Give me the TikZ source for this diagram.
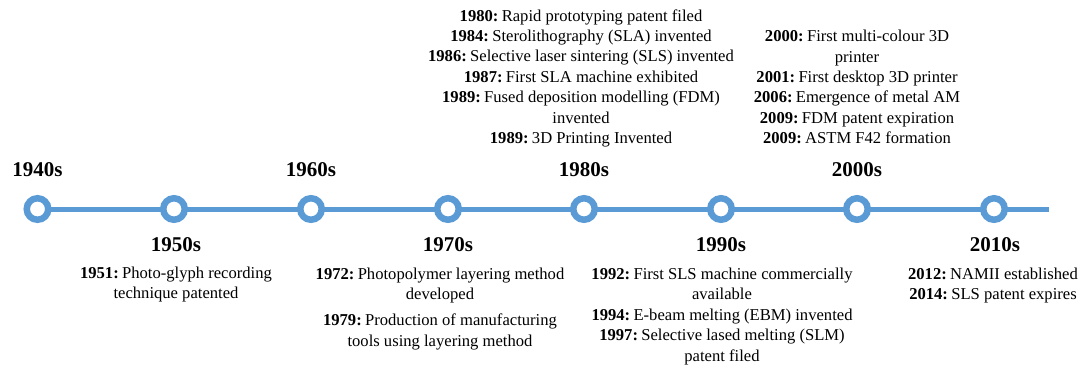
\documentclass[tikz,border=0pt]{standalone}
\usepackage{fontspec}
\setmainfont{Liberation Serif}
% bold year followed by a tight gap
\newcommand\yr[1]{\textbf{#1:}\hspace{0.2em}\ignorespaces}
\begin{document}
\begin{tikzpicture}[x=1pt,y=-1pt,
  every node/.style={inner sep=0pt,outer sep=0pt},
  axis/.style={draw=tlblue,line width=5pt},
  milestone/.style={circle,draw=tlblue,fill=white,line width=6.5pt,minimum size=21.5pt},
  decade/.style={font=\fontsize{21}{24}\selectfont\bfseries},
  events/.style={align=center,font=\fontsize{16.6}{20.4}\selectfont}
]
\definecolor{tlblue}{HTML}{5B9BD5}
\useasboundingbox (0,0) rectangle (1083,365);
% milestones on the timeline
\coordinate (axend) at (1049,209);
\coordinate (axstart) at (37.5,209);
\draw[axis] (axstart) -- (axend);
\node[milestone] (m1) at (37.5,209) {};
\node[milestone] (m2) at (174,209) {};
\node[milestone] (m3) at (311,209) {};
\node[milestone] (m4) at (448,209) {};
\node[milestone] (m5) at (584,209) {};
\node[milestone] (m6) at (721,209) {};
\node[milestone] (m7) at (857,209) {};
\node[milestone] (m8) at (994,209) {};
% decade labels
\node[decade] (d1) at (37.5,170) {1940s};
\node[decade] (d2) at (176,245) {1950s};
\node[decade] (d3) at (311,170) {1960s};
\node[decade] (d4) at (448,245) {1970s};
\node[decade] (d5) at (584,170) {1980s};
\node[decade] (d6) at (721,245) {1990s};
\node[decade] (d7) at (857,170) {2000s};
\node[decade] (d8) at (995,245) {2010s};
% events
\node[events,anchor=north] (e2) at (176,267) {\yr{1951} Photo-glyph recording\\technique patented};
\node[events,anchor=north] (e4a) at (440,268) {\yr{1972} Photopolymer layering method\\developed};
\node[events,anchor=north] (e4b) at (440,314) {\yr{1979} Production of manufacturing\\tools using layering method};
\node[events,anchor=south] (e5) at (581,147) {\yr{1980} Rapid prototyping patent filed\\
\yr{1984} Sterolithography (SLA) invented\\
\yr{1986} Selective laser sintering (SLS) invented\\
\yr{1987} First SLA machine exhibited\\
\yr{1989} Fused deposition modelling (FDM)\\invented\\
\yr{1989} 3D Printing Invented};
\node[events,anchor=north] (e6) at (722,268) {\yr{1992} First SLS machine commercially\\available\\
\yr{1994} E-beam melting (EBM) invented\\
\yr{1997} Selective lased melting (SLM)\\patent filed};
\node[events,anchor=south] (e7) at (857,144) {\yr{2000} First multi-colour 3D\\printer\\
\yr{2001} First desktop 3D printer\\
\yr{2006} Emergence of metal AM\\
\yr{2009} FDM patent expiration\\
\yr{2009} ASTM F42 formation};
\node[events,anchor=north] (e8) at (993,268) {\yr{2012} NAMII established\\\yr{2014} SLS patent expires};
\end{tikzpicture}
\end{document}
